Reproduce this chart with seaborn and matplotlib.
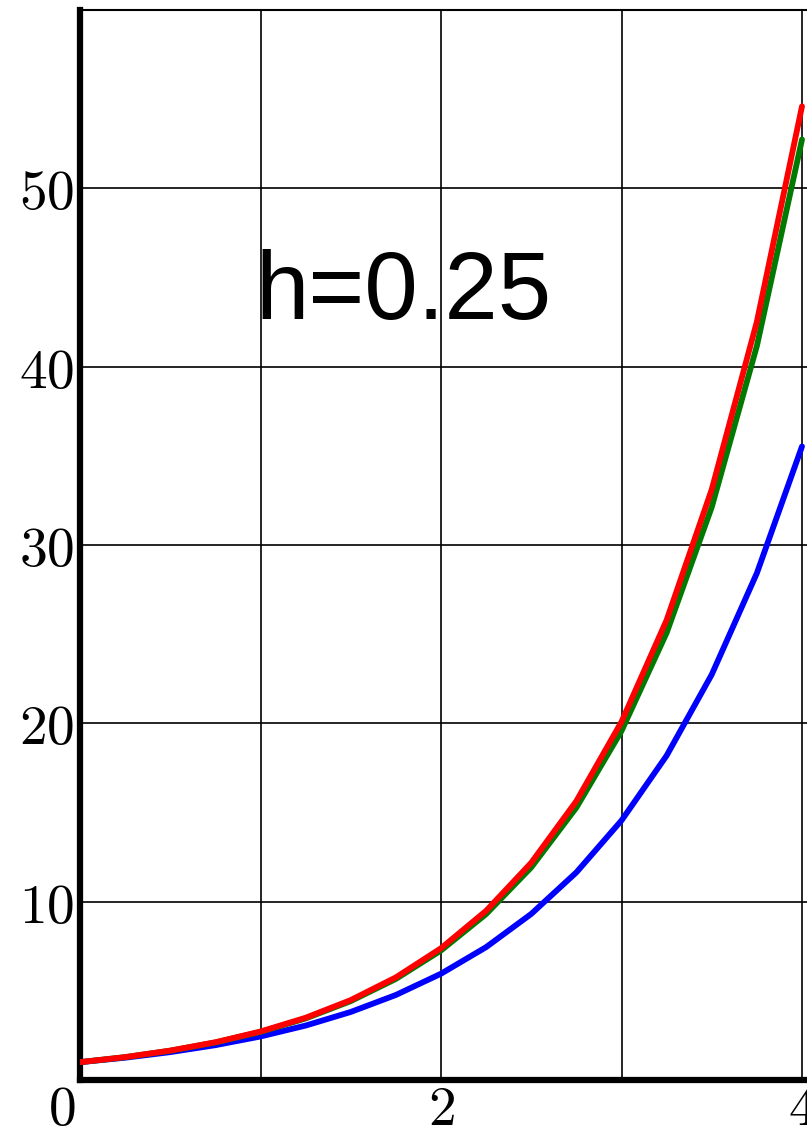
import matplotlib
matplotlib.use("Agg")
import matplotlib.pyplot as plt
import matplotlib.transforms as mtrans
import seaborn as sns
import pandas as pd

# hodnoty, krok h = 0.25
x = [0, 0.25, 0.5, 0.75, 1, 1.25, 1.5, 1.75, 2, 2.25, 2.5, 2.75, 3, 3.25, 3.5, 3.75, 4]
euler = [1, 1.25, 1.563, 1.953, 2.441, 3.052, 3.815, 4.768, 5.960, 7.451, 9.313,
         11.642, 14.552, 18.190, 22.737, 28.422, 35.527]
heun = [1, 1.281, 1.642, 2.103, 2.695, 3.453, 4.424, 5.668, 7.262, 9.305, 11.922,
        15.275, 19.571, 25.075, 32.127, 41.163, 52.740]
presne = [1, 1.284, 1.649, 2.117, 2.718, 3.490, 4.482, 5.755, 7.389, 9.488, 12.183,
          15.643, 20.086, 25.790, 33.116, 42.521, 54.598]

xticks = [0, 2, 4]
yticks = [10, 20, 30, 40, 50]

df = pd.DataFrame({"x": x * 3,
                   "y": euler + heun + presne,
                   "metoda": ["euler"] * 17 + ["heun"] * 17 + ["presne"] * 17})

sns.set_style("white")
plt.rcParams["mathtext.fontset"] = "cm"
plt.rcParams["text.color"] = "black"
plt.rcParams["xtick.color"] = "black"
plt.rcParams["ytick.color"] = "black"

fig = plt.figure(figsize=(8.07, 11.35), dpi=100)
ax = fig.add_axes([80 / 807, 55 / 1135, 727 / 807, 1070 / 1135])

sns.lineplot(data=df, x="x", y="y", hue="metoda",
             palette={"euler": "#0000ff", "heun": "#007a00", "presne": "#ff0000"},
             linewidth=4.2, legend=False, ax=ax, zorder=3)

ax.set_xlim(0, 727 / 180.5)
ax.set_ylim(0, 60)
ax.set_yticks(yticks)
ax.grid(True, color="black", linewidth=1.2, zorder=1)
ax.set_axisbelow(True)
ax.set_xticks([0, 1, 2, 3, 4])
ax.set_xticklabels(["$" + str(v) + "$" if v in xticks else "" for v in [0, 1, 2, 3, 4]],
                   fontsize=40)
ax.set_yticklabels([f"${v}$" for v in yticks], fontsize=40)
ax.tick_params(axis="x", length=0, pad=2)
ax.tick_params(axis="y", length=0, pad=4)
ax.set_xlabel("")
ax.set_ylabel("")

# popisek 0 je posunutý doleva
posun = mtrans.ScaledTranslation(-18 / 100, 0, fig.dpi_scale_trans)
ax.get_xticklabels()[0].set_transform(ax.get_xticklabels()[0].get_transform() + posun)

for strana in ["left", "bottom"]:
    ax.spines[strana].set_linewidth(4.5)
    ax.spines[strana].set_color("black")
ax.spines["top"].set_linewidth(1.5)
ax.spines["top"].set_color("black")
ax.spines["right"].set_visible(False)

ax.text(0.97, 42.7, "h=0.25", fontsize=69, family="Liberation Sans", color="black",
        va="baseline", ha="left", zorder=2)

fig.savefig("out.png", dpi=100)
